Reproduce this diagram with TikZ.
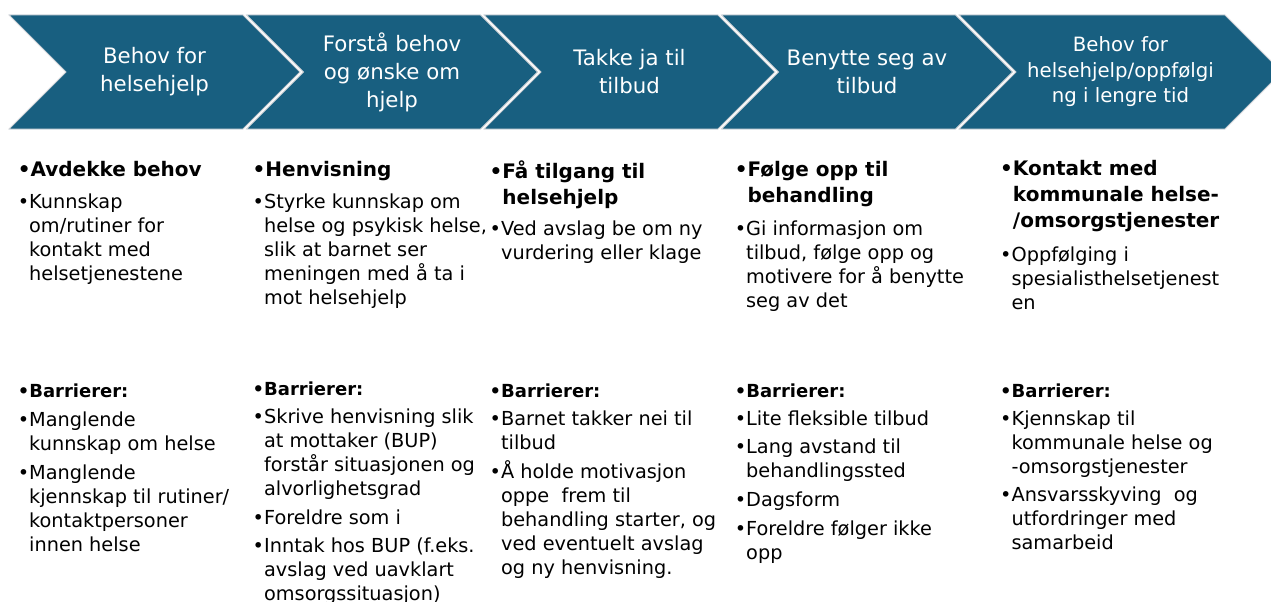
\documentclass[tikz,border=0pt]{standalone}
\usepackage{fontspec}
\setmainfont{DejaVu Sans}
\usetikzlibrary{shapes.symbols}
\definecolor{stepblue}{RGB}{24,95,128}
\definecolor{edgegray}{RGB}{208,211,215}
\newcommand{\bul}{\textbullet}
\newcommand{\gap}{\\[4.7pt]}

\begin{document}
\begin{tikzpicture}[x=1pt,y=-1pt,
    chev/.style={signal,signal from=west,signal to=east,signal pointer angle=90,
                 fill=stepblue,draw=edgegray,line width=0.8pt,text=white,
                 minimum width=291pt,minimum height=114pt,inner sep=0pt,align=center,
                 font=\fontsize{21.3}{28}\selectfont},
    head/.style={anchor=base west,inner sep=0pt,font=\fontsize{20}{26}\selectfont\bfseries},
    barhead/.style={anchor=base west,inner sep=0pt,font=\fontsize{18}{24}\selectfont\bfseries},
    body/.style={anchor=base west,inner sep=0pt,font=\fontsize{19.3}{24}\selectfont}]
  \useasboundingbox (0,0) rectangle (1271,602);
  \fill[white] (0,0) rectangle (1271,602);

  % steps
  \node[chev] (c1) at (154.5,72) {Behov for\\helsehjelp};
  \node[chev] (c2) at (392,72) {Forstå behov\\og ønske om\\hjelp};
  \node[chev] (c3) at (629.5,72) {Takke ja til\\tilbud};
  \node[chev] (c4) at (867,72) {Benytte seg av\\tilbud};
  \node[chev,minimum width=323pt,font=\fontsize{19.7}{25.5}\selectfont]
    (c5) at (1120.5,72) {Behov for\\helsehjelp/oppfølgi\\ng i lengre tid};

  % column 1
  \node[head] (h1) at (17.6,176.5)
    {\begin{tabular}[t]{@{}l@{}l@{}}\bul&Avdekke behov\end{tabular}};
  \node[body] (d1) at (17.6,208.3)
    {\begin{tabular}[t]{@{}l@{}l@{}}\bul&Kunnskap\\&om/rutiner for\\&kontakt med\\&helsetjenestene\end{tabular}};
  \node[barhead] (bh1) at (17.6,397)
    {\begin{tabular}[t]{@{}l@{}l@{}}\bul&Barrierer:\end{tabular}};
  \node[body] (bl1) at (17.6,426.5)
    {\begin{tabular}[t]{@{}l@{}l@{}}\bul&Manglende\\&kunnskap om helse\gap
     \bul&Manglende\\&kjennskap til rutiner/\\&kontaktpersoner\\&innen helse\end{tabular}};

  % column 2
  \node[head] (h2) at (252.5,176.5)
    {\begin{tabular}[t]{@{}l@{}l@{}}\bul&Henvisning\end{tabular}};
  \node[body] (d2) at (252.5,208.8)
    {\begin{tabular}[t]{@{}l@{}l@{}}\bul&Styrke kunnskap om\\&helse og psykisk helse,\\&slik at barnet ser\\
     &meningen med å ta i\\&mot helsehjelp\end{tabular}};
  \node[barhead] (bh2) at (252.5,395)
    {\begin{tabular}[t]{@{}l@{}l@{}}\bul&Barrierer:\end{tabular}};
  \node[body] (bl2) at (252.5,423.3)
    {\begin{tabular}[t]{@{}l@{}l@{}}\bul&Skrive henvisning slik\\&at mottaker (BUP)\\&forstår situasjonen og\\
     &alvorlighetsgrad\gap \bul&Foreldre som i\gap
     \bul&Inntak hos BUP (f.eks.\\&avslag ved uavklart\\&omsorgssituasjon)\end{tabular}};

  % column 3
  \node[head] (h3) at (489.5,178)
    {\begin{tabular}[t]{@{}l@{}l@{}}\bul&Få tilgang til\\&helsehjelp\end{tabular}};
  \node[body] (d3) at (489.5,235)
    {\begin{tabular}[t]{@{}l@{}l@{}}\bul&Ved avslag be om ny\\&vurdering eller klage\end{tabular}};
  \node[barhead] (bh3) at (489.5,397)
    {\begin{tabular}[t]{@{}l@{}l@{}}\bul&Barrierer:\end{tabular}};
  \node[body] (bl3) at (489.5,425)
    {\begin{tabular}[t]{@{}l@{}l@{}}\bul&Barnet takker nei til\\&tilbud\gap
     \bul&Å holde motivasjon\\&oppe~ frem til\\&behandling starter, og\\
     &ved eventuelt avslag\\&og ny henvisning.\end{tabular}};

  % column 4
  \node[head] (h4) at (734.6,176.5)
    {\begin{tabular}[t]{@{}l@{}l@{}}\bul&Følge opp til\\&behandling\end{tabular}};
  \node[body] (d4) at (734.6,235)
    {\begin{tabular}[t]{@{}l@{}l@{}}\bul&Gi informasjon om\\&tilbud, følge opp og\\
     &motivere for å benytte\\&seg av det\end{tabular}};
  \node[barhead] (bh4) at (734.6,397)
    {\begin{tabular}[t]{@{}l@{}l@{}}\bul&Barrierer:\end{tabular}};
  \node[body] (bl4) at (734.6,425)
    {\begin{tabular}[t]{@{}l@{}l@{}}\bul&Lite fleksible tilbud\gap
     \bul&Lang avstand til\\&behandlingssted\gap \bul&Dagsform\gap
     \bul&Foreldre følger ikke\\&opp\end{tabular}};

  % column 5
  \node[head] (h5) at (1000,175)
    {\begin{tabular}[t]{@{}l@{}l@{}}\bul&Kontakt med\\&kommunale helse-\\&/omsorgstjenester\end{tabular}};
  \node[body] (d5) at (1000,261.5)
    {\begin{tabular}[t]{@{}l@{}l@{}}\bul&Oppfølging i\\&spesialisthelsetjenest\\&en\end{tabular}};
  \node[barhead] (bh5) at (1000,397)
    {\begin{tabular}[t]{@{}l@{}l@{}}\bul&Barrierer:\end{tabular}};
  \node[body] (bl5) at (1000,425)
    {\begin{tabular}[t]{@{}l@{}l@{}}\bul&Kjennskap til\\&kommunale helse og\\&-omsorgstjenester\gap
     \bul&Ansvarsskyving~ og\\&utfordringer med\\&samarbeid\end{tabular}};
\end{tikzpicture}
\end{document}
